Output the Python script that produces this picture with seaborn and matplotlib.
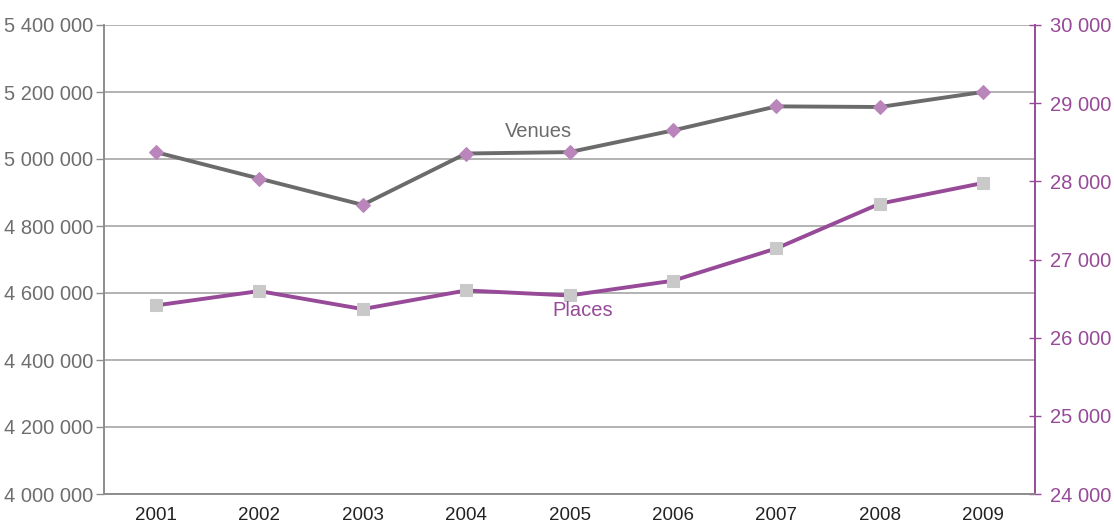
import seaborn as sns
import matplotlib.pyplot as plt
import matplotlib.ticker as mticker
import pandas as pd

years = ["2001", "2002", "2003", "2004", "2005", "2006", "2007", "2008", "2009"]
venues = [28374, 28036, 27699, 28356, 28374, 28651, 28959, 28951, 29144]
places = [4562800, 4605800, 4552000, 4607600, 4592600, 4636600, 4733100, 4866600, 4928500]

GRAY_LINE = "#6b6b6b"
PURPLE = "#974a98"
DIAMOND = "#b985ba"
SQUARE = "#c9c9c9"
TICK_GRAY = "#6e6e6e"

sns.set_theme(style="white")
plt.rcParams["font.family"] = ["Liberation Sans", "DejaVu Sans"]

df = pd.DataFrame({"year": years, "pos": range(len(years)), "venues": venues, "places": places})

fig = plt.figure(figsize=(11.14, 5.23), dpi=100)
ax = fig.add_axes([104 / 1114, 1 - 494 / 523, (1035 - 104) / 1114, (494 - 25) / 523])
ax2 = ax.twinx()

# places on left axis
sns.lineplot(data=df, x="pos", y="places", ax=ax, color=PURPLE, linewidth=2.8,
             marker="s", markersize=9, markerfacecolor=SQUARE, markeredgecolor=SQUARE, zorder=3)
# venues on right axis
sns.lineplot(data=df, x="pos", y="venues", ax=ax2, color=GRAY_LINE, linewidth=2.8,
             marker="D", markersize=7, markerfacecolor=DIAMOND, markeredgecolor=DIAMOND, zorder=3)

ax.set_xlim(-0.5, len(years) - 0.5)
ax.set_ylim(4000000, 5400000)
ax2.set_ylim(24000, 30000)

fmt = mticker.FuncFormatter(lambda v, p: f"{int(v):,}".replace(",", " "))
ax.yaxis.set_major_locator(mticker.MultipleLocator(200000))
ax.yaxis.set_major_formatter(fmt)
ax2.yaxis.set_major_locator(mticker.MultipleLocator(1000))
ax2.yaxis.set_major_formatter(fmt)

ax.grid(axis="y", color="#a6a6a6", linewidth=1.2)
ax.set_axisbelow(True)

# category boundaries as ticks, labels at centers
ax.set_xticks([i - 0.5 for i in range(len(years) + 1)])
ax.set_xticklabels([])
ax.set_xticks(range(len(years)), minor=True)
ax.set_xticklabels(years, minor=True)
ax.tick_params(axis="x", which="major", direction="out", length=5, color="#8c8c8c", width=1)
ax.tick_params(axis="x", which="minor", length=0, labelsize=13.5, labelcolor="#222222", pad=9)

ax.tick_params(axis="y", direction="out", length=6, color="#8c8c8c", width=1,
               labelsize=14.5, labelcolor=TICK_GRAY, pad=2, left=True)
ax2.tick_params(axis="y", direction="inout", length=9, color=PURPLE, width=1,
                labelsize=14.5, labelcolor=PURPLE, pad=6, right=True)

ax.set_xlabel("")
ax.set_ylabel("")
ax2.set_ylabel("")

for a in (ax, ax2):
    a.spines["top"].set_visible(False)
    a.spines["left"].set_color("#8c8c8c")
    a.spines["bottom"].set_color("#8c8c8c")
    a.spines["right"].set_color(PURPLE)
    a.spines["left"].set_linewidth(1.2)
    a.spines["bottom"].set_linewidth(1.2)
    a.spines["right"].set_linewidth(1.2)

ax2.text(3.7, 28000 + (181.7 - 132) / 78 * 1000, "Venues", color=GRAY_LINE, fontsize=14.5,
         ha="center", va="center")
ax.text(4.13, 5400000 - (310.5 - 25.5) * 2988, "Places", color=PURPLE, fontsize=14.5,
        ha="center", va="center")

fig.savefig("out.png", dpi=100)
